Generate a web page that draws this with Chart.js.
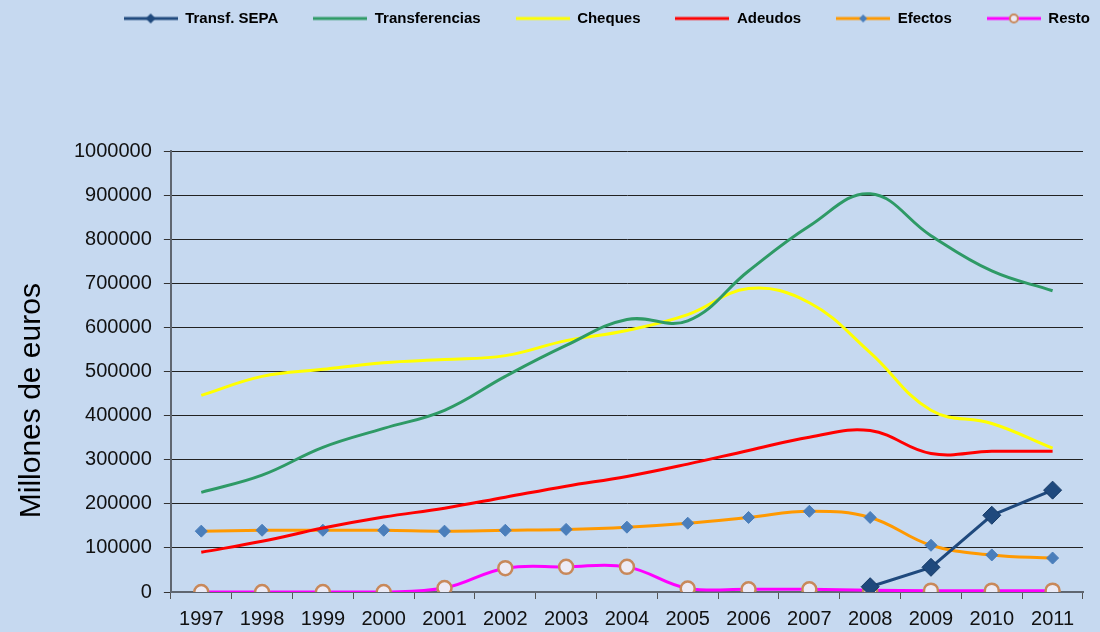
<!DOCTYPE html>
<html>
<head>
<meta charset="utf-8">
<script src="https://cdn.jsdelivr.net/npm/chart.js@4"></script>
<style>
html,body{margin:0;padding:0;background:#c6d9f0;}
#wrap{width:1100px;height:632px;position:relative;}
</style>
</head>
<body>
<div id="wrap"><canvas id="c" width="1100" height="632"></canvas></div>
<script>
const years = ["1997","1998","1999","2000","2001","2002","2003","2004","2005","2006","2007","2008","2009","2010","2011"];
const sepa = [null,null,null,null,null,null,null,null,null,null,null,12000,56000,174000,231000];
const transferencias = [226000,265000,328000,371000,412000,489000,559000,618000,615000,728000,830000,903000,808000,728000,683000];
const cheques = [446000,489000,505000,520000,527000,536000,570000,593000,629000,688000,656000,543000,412000,382000,326000];
const adeudos = [90000,115000,145000,170000,190000,215000,240000,262000,290000,321000,351000,366000,314000,319000,319000];
const efectos = [138000,140000,140000,140000,138000,140000,142000,147000,156000,169000,183000,169000,106000,84000,77000];
const resto = [0,0,0,0,9000,54000,57000,57000,8000,6000,6000,4000,3000,3000,3000];
const yTicks = [0,100000,200000,300000,400000,500000,600000,700000,800000,900000,1000000];

function legendIcon(color, marker){
  const cv = document.createElement('canvas');
  cv.width = 54; cv.height = 14;
  const g = cv.getContext('2d');
  g.strokeStyle = color; g.lineWidth = 3;
  g.beginPath(); g.moveTo(0,7); g.lineTo(54,7); g.stroke();
  if (marker === 'dia1' || marker === 'dia2') {
    g.fillStyle = marker === 'dia1' ? '#1f497d' : '#4a7ebb';
    const r = marker === 'dia1' ? 5 : 4;
    g.beginPath(); g.moveTo(27,7-r); g.lineTo(27+r,7); g.lineTo(27,7+r); g.lineTo(27-r,7); g.closePath(); g.fill();
  } else if (marker === 'circ') {
    g.fillStyle = '#ecebf6'; g.strokeStyle = '#c8885a'; g.lineWidth = 2;
    g.beginPath(); g.arc(27,7,4,0,Math.PI*2); g.fill(); g.stroke();
  }
  return cv;
}

const icons = [
  legendIcon('#1f497d','dia1'),
  legendIcon('#2e9a66',null),
  legendIcon('#ffff00',null),
  legendIcon('#ff0000',null),
  legendIcon('#ff9900','dia2'),
  legendIcon('#ff00ff','circ')
];

const bgPlugin = {
  id: 'bg',
  beforeDraw(chart){
    const c = chart.ctx; c.save(); c.fillStyle = '#c6d9f0'; c.fillRect(0,0,chart.width,chart.height); c.restore();
  }
};
const legendGap = {
  id: 'legendGap',
  beforeInit(chart){
    const lg = chart.legend;
    const orig = lg.fit;
    lg.fit = function(){ orig.call(this); this.height += 115; };
    const origDraw = lg.draw;
    lg.draw = function(){
      const c = chart.ctx; c.save(); c.translate(42,0); origDraw.call(this); c.restore();
    };
  }
};

const FONT = 'Liberation Sans, Arial, Helvetica, sans-serif';
new Chart(document.getElementById('c'), {
  type: 'line',
  data: {
    labels: years,
    datasets: [
      {label:'Transf. SEPA', data:sepa, borderColor:'#1f497d', backgroundColor:'#1f497d', borderWidth:3, tension:0,
       pointStyle:'rectRot', pointRadius:9, pointBackgroundColor:'#1f497d', pointBorderColor:'#163a66', pointBorderWidth:1, order:0},
      {label:'Transferencias', data:transferencias, borderColor:'#2e9a66', borderWidth:3, tension:0.4, pointRadius:0, order:1},
      {label:'Cheques', data:cheques, borderColor:'#ffff00', borderWidth:3, tension:0.4, pointRadius:0, order:2},
      {label:'Adeudos', data:adeudos, borderColor:'#ff0000', borderWidth:3, tension:0.4, pointRadius:0, order:3},
      {label:'Efectos', data:efectos, borderColor:'#ff9900', borderWidth:3, tension:0.4,
       pointStyle:'rectRot', pointRadius:6, pointBackgroundColor:'#4a7ebb', pointBorderColor:'#4a7ebb', pointBorderWidth:1, order:4},
      {label:'Resto', data:resto, borderColor:'#ff00ff', borderWidth:3, tension:0.4,
       pointStyle:'circle', pointRadius:7, pointBackgroundColor:'#ecebf6', pointBorderColor:'#c8885a', pointBorderWidth:2.5, order:5}
    ]
  },
  options: {
    responsive:false,
    animation:false,
    layout:{padding:{left:14,right:17,top:-24,bottom:-7}},
    plugins:{
      legend:{
        position:'top', align:'end',
        labels:{
          usePointStyle:true, pointStyleWidth:54, boxHeight:14,
          padding:35,
          color:'#000',
          font:{family:FONT, size:15, weight:'bold'},
          generateLabels(chart){
            return chart.data.datasets.map((ds,i)=>({
              text: ds.label, pointStyle: icons[i], fillStyle:'transparent', strokeStyle:'transparent',
              lineWidth:0, datasetIndex:i, hidden:false, fontColor:'#000'
            }));
          }
        }
      },
      tooltip:{enabled:false}
    },
    scales:{
      x:{
        offset:true,
        grid:{display:true, drawOnChartArea:false, offset:true, tickLength:7, tickColor:'#555', lineWidth:1},
        border:{display:true, color:'#5f6670', width:2},
        ticks:{color:'#111', font:{family:FONT, size:20}, padding:8, maxRotation:0, autoSkip:false}
      },
      y:{
        min:0, max:1000000,
        afterBuildTicks(axis){ axis.ticks = yTicks.map(v=>({value:v})); },
        grid:{color:'#222', lineWidth:1, borderDash:[2,1], tickLength:7, tickColor:'#333', drawTicks:true},
        border:{display:true, color:'#5f6670', width:2},
        ticks:{color:'#111', font:{family:FONT, size:20}, padding:12,
          callback:(v)=>String(v)},
        title:{display:true, text:'Millones de euros\u00A0\u00A0\u00A0\u00A0\u00A0\u00A0\u00A0', color:'#000', font:{family:FONT, size:30}, padding:{top:0,bottom:12}}
      }
    }
  },
  plugins:[bgPlugin, legendGap]
});
</script>
</body>
</html>
